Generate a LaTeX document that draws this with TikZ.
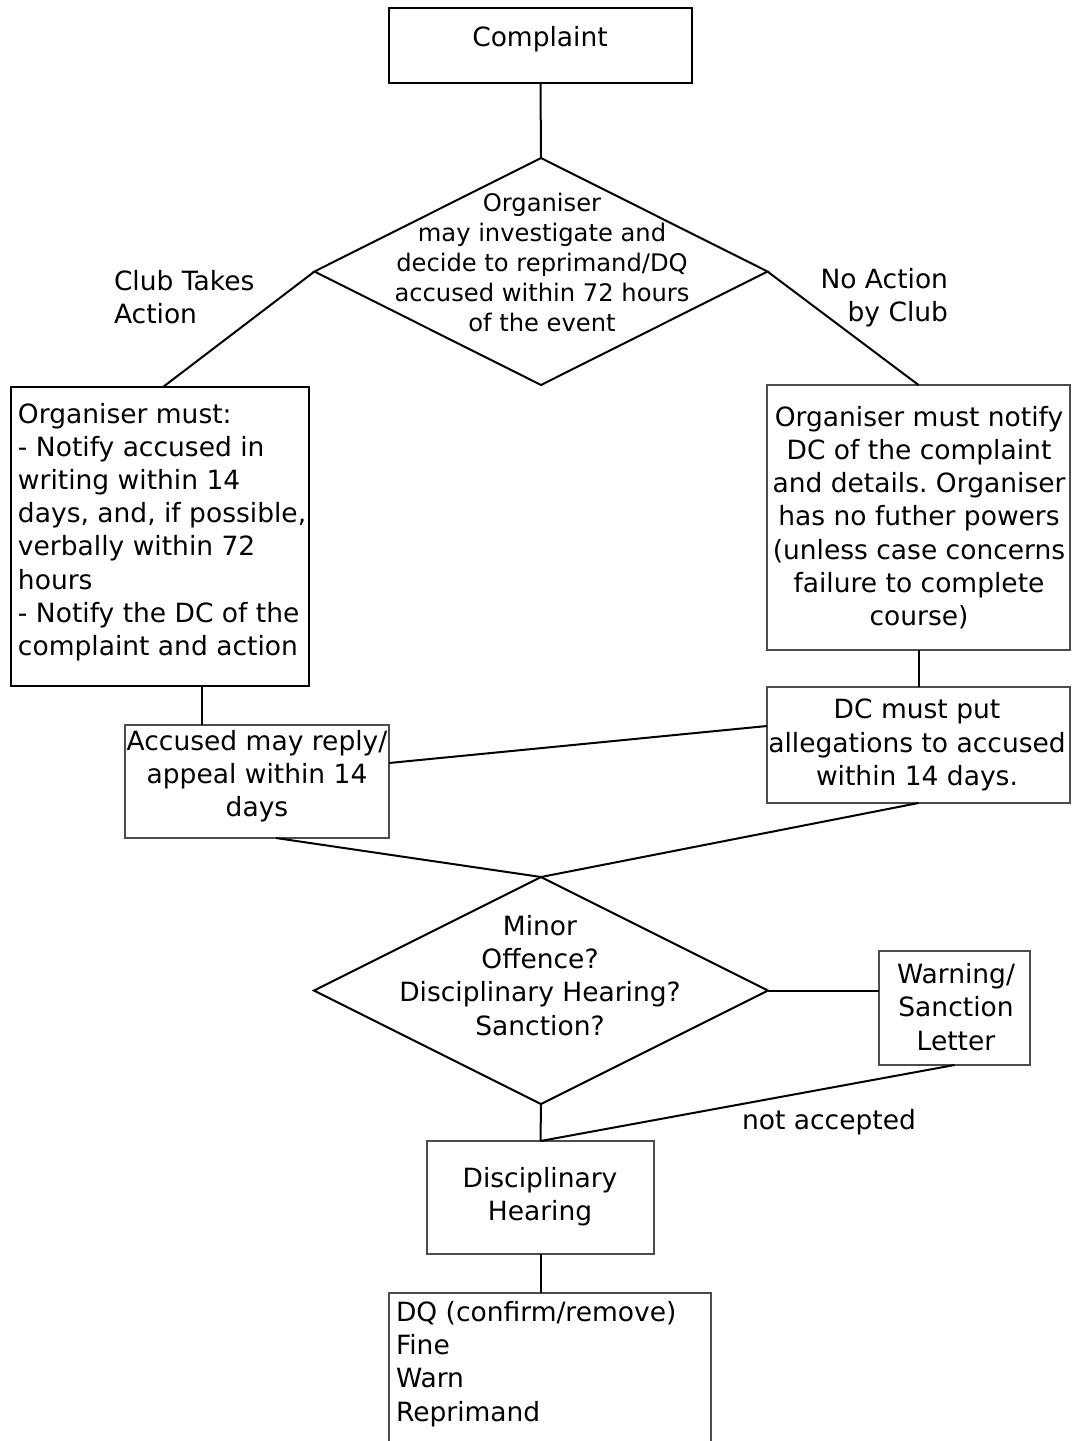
\documentclass[tikz,border=0pt]{standalone}
\usepackage{fontspec}
\setmainfont{DejaVu Sans}
\usetikzlibrary{shapes.geometric}
\frenchspacing

\begin{document}
\begin{tikzpicture}[x=0.5pt, y=-0.5pt,
	every node/.style={inner sep=0pt, outer sep=0pt},
	thickbox/.style={draw, line width=1pt},
	thinbox/.style={draw=black!70, line width=0.6pt},
	decision/.style={diamond, draw, line width=1pt},
	txt/.style={align=center, font=\fontsize{13.25}{16.6}\selectfont},
	smalltxt/.style={align=center, font=\fontsize{12.1}{15}\selectfont},
	connector/.style={line width=1pt}]
	
	% --- Page: 1072 x 1441 units (1 unit = 1 pixel of the layout) ---
	\useasboundingbox (0,0) rectangle (1072,1441);
	\fill[white] (0,0) rectangle (1072,1441);
	\clip (0,0) rectangle (1072,1441);
	
	% --- Complaint and the organiser's decision ---
	\node[thickbox, minimum width=151.5pt, minimum height=37.5pt] (complaint) at (540.5,45.5) {};
	\node[txt] (complaintTxt) at (540,39.5) {Complaint};
	
	\node[decision, minimum width=226.5pt, minimum height=113.5pt] (orgDecision) at (541,271.5) {};
	\node[smalltxt] (orgDecisionTxt) at (542,262.5) {Organiser\\may investigate and\\decide to reprimand/DQ\\accused within 72 hours\\of the event};
	
	% Branch labels
	\node[txt, align=left, anchor=west] (clubActs) at (114,297) {Club Takes\\Action};
	\node[txt, align=right, anchor=east] (noAction) at (948,297.5) {No Action\\by Club};
	
	% --- Left branch: club takes action ---
	\node[thickbox, minimum width=149pt, minimum height=149.5pt] (orgMust) at (160,536.5) {};
	\node[txt, align=left, anchor=west] (orgMustTxt) at (18,532) {Organiser must:\\- Notify accused in\\writing within 14\\days, and, if possible,\\verbally within 72\\hours\\- Notify the DC of the\\complaint and action};
	
	\node[thinbox, minimum width=132pt, minimum height=56.5pt] (accused) at (257,781.5) {};
	\node[txt] (accusedTxt) at (257,776) {Accused may reply/\\appeal within 14\\days};
	
	% --- Right branch: no action by club ---
	\node[thinbox, minimum width=151.5pt, minimum height=132.5pt] (notifyDC) at (918.5,517.5) {};
	\node[txt] (notifyDCTxt) at (919,517.5) {Organiser must notify\\DC of the complaint\\and details. Organiser\\has no futher powers\\(unless case concerns\\failure to complete\\course)};
	
	\node[thinbox, minimum width=151.5pt, minimum height=58pt] (dcAlleg) at (918.5,745) {};
	\node[txt] (dcAllegTxt) at (917,745) {DC must put\\allegations to accused\\within 14 days.};
	
	% --- Second decision and its outcomes ---
	\node[decision, minimum width=227pt, minimum height=113.5pt] (offence) at (541,990.5) {};
	\node[txt] (offenceTxt) at (540,975.5) {Minor\\Offence?\\Disciplinary Hearing?\\Sanction?};
	
	\node[thinbox, minimum width=75.5pt, minimum height=57pt] (warning) at (954.5,1008) {};
	\node[txt] (warningTxt) at (956,1007) {Warning/\\Sanction\\Letter};
	
	\node[thinbox, minimum width=113.5pt, minimum height=56.5pt] (hearing) at (540.5,1197.5) {};
	\node[txt] (hearingTxt) at (540,1196.5) {Disciplinary\\Hearing};
	
	\node[txt] (notAccepted) at (829,1122.5) {not accepted};
	
	% Outcome box runs off the bottom of the page
	\node[thinbox, minimum width=161pt, minimum height=93.5pt] (outcome) at (550,1386.5) {};
	\node[txt, align=left, anchor=west] (outcomeTxt) at (396,1364) {DQ (confirm/remove)\\Fine\\Warn\\Reprimand};
	
	% --- Connectors ---
	\coordinate (dropLeft) at (202,700);
	\draw[connector] (complaint.south) -- (orgDecision.north);
	\draw[connector] (orgDecision.west) -- ([xshift=1.5pt]orgMust.north);
	\draw[connector] (orgDecision.east) -- (notifyDC.north);
	\draw[connector] (orgMust.south -| dropLeft) -- (accused.north -| dropLeft);
	\draw[connector] (notifyDC.south) -- (dcAlleg.north);
	\draw[connector] ([yshift=9.25pt]accused.east) -- ([yshift=9.5pt]dcAlleg.west);
	\draw[connector] ([xshift=9.5pt]accused.south) -- (offence.north);
	\draw[connector] (dcAlleg.south) -- (offence.north);
	\draw[connector] (offence.east) -- (offence.east -| warning.west);
	\draw[connector] (warning.south) -- (hearing.north);
	\draw[connector] (offence.south) -- (hearing.north);
	\draw[connector] (hearing.south) -- (hearing.south |- outcome.north);
	
\end{tikzpicture}
\end{document}
